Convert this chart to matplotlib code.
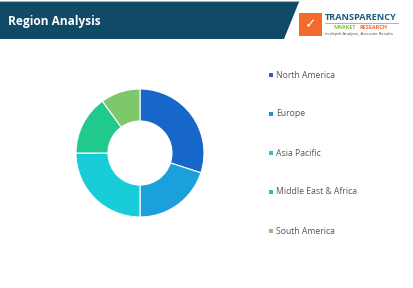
import matplotlib; matplotlib.use('Agg')
import matplotlib.pyplot as plt
from matplotlib.patches import Polygon, Rectangle

plt.rcParams['font.family'] = ['Open Sans', 'DejaVu Sans']

regions = ['North America', 'Europe', 'Asia Pacific', 'Middle East & Africa', 'South America']
shares = [30, 20, 25, 15, 10]
colors = ['#1667C9', '#1BA0DB', '#19CCDA', '#21C98D', '#7CC86A']
legend_colors = ['#2B5FA8', '#2A8FBF', '#2EC0CC', '#3CBF95', '#8CC57A']

W, H = 413, 288
fig = plt.figure(figsize=(W / 100, H / 100), dpi=100)
fig.patch.set_facecolor('white')

# header band with slanted right edge
bg = fig.add_axes([0, 0, 1, 1])
bg.set_xlim(0, W); bg.set_ylim(H, 0); bg.axis('off')
bg.add_patch(Polygon([(0, 2), (299, 2), (284, 39), (0, 39)], closed=True,
                     facecolor='#0F4A66', edgecolor='none'))
bg.plot([0, 299], [1, 1], color='#9DB6C4', lw=0.8)
bg.text(8, 21, 'Region Analysis', color='white', fontsize=8.6, fontweight='bold',
        va='center', ha='left')

# logo
bg.add_patch(Rectangle((299, 13), 23, 23, facecolor='#F26B2A', edgecolor='none'))
bg.text(310.5, 24.5, '✓', color='white', fontsize=10, fontweight='bold',
        ha='center', va='center', family=['DejaVu Sans'])
bg.text(325, 17, 'TRANSPARENCY', color='#1B5C7A', fontsize=6.6, fontweight='bold',
        ha='left', va='center')
bg.plot([325, 398], [23, 23], color='#8BC34A', lw=0.6)
bg.text(334, 27.5, 'MARKET', color='#8BC34A', fontsize=4.0, fontweight='bold',
        ha='left', va='center')
bg.text(359, 27.5, 'RESEARCH', color='#F26B2A', fontsize=4.0, fontweight='bold',
        ha='left', va='center')
bg.text(325, 33.5, 'in-depth Analysis, Accurate Results', color='#444444', fontsize=3.0,
        ha='left', va='center')

# donut
cx, cy, r = 140, 153, 64
ax = fig.add_axes([(cx - r) / W, (H - cy - r) / H, 2 * r / W, 2 * r / H])
ax.pie(shares, colors=colors, startangle=90, counterclock=False,
       wedgeprops=dict(width=0.5, edgecolor='white', linewidth=0.8))
ax.set_xlim(-1, 1); ax.set_ylim(-1, 1)
ax.set_aspect('equal')

# legend
ys = [75, 114, 153, 192, 231]
for name, c, y in zip(regions, legend_colors, ys):
    bg.add_patch(Rectangle((269, y - 2), 4, 4, facecolor=c, edgecolor='none'))
    bg.text(276, y, name, color='#555555', fontsize=6.2, ha='left', va='center')

plt.savefig('out.png', dpi=100)
